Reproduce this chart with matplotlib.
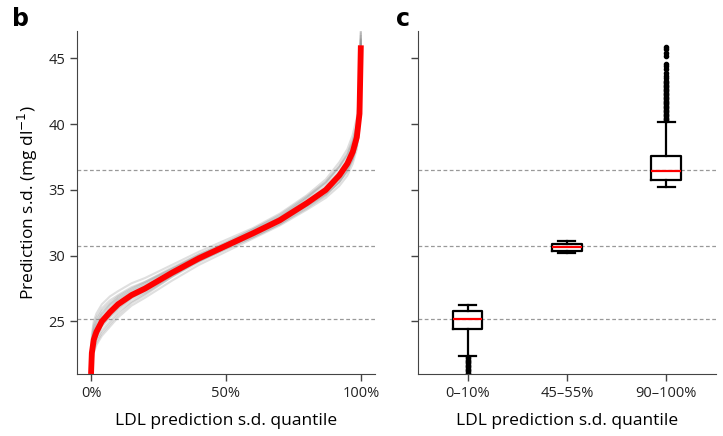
import matplotlib
matplotlib.use("Agg")
import matplotlib.pyplot as plt

plt.rcParams['font.family'] = ['Open Sans', 'DejaVu Sans']

# quantile grid for panel b
quantile = [0, 0.003, 0.01, 0.02, 0.04, 0.07, 0.1, 0.15, 0.2, 0.3, 0.4, 0.5,
            0.6, 0.7, 0.8, 0.87, 0.92, 0.95, 0.97, 0.985, 0.995, 1.0]

# main curve (red)
main_sd = [21.0, 22.6, 23.6, 24.2, 25.0, 25.7, 26.3, 27.0, 27.5, 28.7, 29.8, 30.75,
           31.7, 32.7, 34.0, 35.0, 36.1, 37.0, 37.9, 39.0, 40.8, 46.0]

# individual runs (grey)
run_sd = [
    [21.0, 24.0, 25.0, 25.6, 26.3, 26.9, 27.3, 27.9, 28.3, 29.3, 30.3, 31.2, 32.1, 33.2, 34.6, 35.8, 37.1, 38.1, 39.2, 40.5, 42.2, 47.2],
    [21.0, 21.7, 22.6, 23.2, 23.9, 24.6, 25.3, 26.2, 26.8, 28.1, 29.3, 30.3, 31.3, 32.3, 33.5, 34.4, 35.3, 36.1, 37.0, 38.1, 39.8, 45.3],
    [21.0, 23.4, 24.4, 25.1, 25.8, 26.4, 26.9, 27.5, 28.0, 29.1, 30.1, 31.0, 32.0, 33.0, 34.4, 35.5, 36.7, 37.6, 38.6, 39.8, 41.6, 46.7],
    [21.0, 22.1, 23.0, 23.6, 24.3, 25.0, 25.7, 26.5, 27.1, 28.4, 29.5, 30.5, 31.4, 32.4, 33.7, 34.6, 35.6, 36.5, 37.4, 38.4, 40.1, 45.6],
    [21.0, 23.0, 24.0, 24.7, 25.5, 26.2, 26.7, 27.3, 27.8, 28.9, 30.0, 30.9, 31.9, 32.9, 34.2, 35.3, 36.4, 37.3, 38.3, 39.4, 41.2, 46.4],
    [21.0, 22.4, 23.3, 23.9, 24.7, 25.4, 26.0, 26.8, 27.3, 28.5, 29.6, 30.6, 31.5, 32.5, 33.8, 34.8, 35.9, 36.8, 37.7, 38.8, 40.5, 45.9],
    [21.0, 23.7, 24.7, 25.3, 26.0, 26.6, 27.0, 27.6, 28.0, 29.0, 30.0, 30.9, 31.7, 32.6, 33.8, 34.7, 35.6, 36.4, 37.3, 38.4, 40.2, 46.3],
    [21.0, 21.9, 22.8, 23.4, 24.1, 24.8, 25.5, 26.4, 27.0, 28.4, 29.7, 30.8, 31.8, 32.9, 34.4, 35.6, 36.8, 37.8, 38.8, 39.9, 41.8, 46.9],
    [21.0, 22.7, 23.7, 24.3, 25.1, 25.8, 26.4, 27.0, 27.5, 28.6, 29.6, 30.5, 31.4, 32.4, 33.6, 34.6, 35.6, 36.5, 37.4, 38.5, 40.3, 45.8],
    [21.0, 23.2, 24.2, 24.9, 25.6, 26.3, 26.8, 27.4, 27.9, 29.0, 30.1, 31.0, 32.0, 33.1, 34.5, 35.6, 36.8, 37.7, 38.7, 39.8, 41.5, 47.0],
    [21.0, 22.2, 23.2, 23.8, 24.6, 25.3, 25.9, 26.7, 27.2, 28.5, 29.6, 30.6, 31.6, 32.6, 33.9, 34.9, 35.9, 36.8, 37.7, 38.8, 40.6, 46.1],
    [21.0, 22.9, 23.9, 24.5, 25.3, 26.0, 26.6, 27.2, 27.7, 28.8, 29.8, 30.7, 31.6, 32.6, 33.9, 34.9, 36.0, 36.9, 37.9, 39.0, 40.9, 46.5],
]

# reference levels (dashed)
ref_levels = [25.2, 30.7, 36.5]

# panel c box statistics
groups = ['0–10%', '45–55%', '90–100%']
box_med = [25.2, 30.63, 36.47]
box_q1 = [24.39, 30.38, 35.76]
box_q3 = [25.78, 30.9, 37.56]
box_lo = [22.39, 30.17, 35.23]
box_hi = [26.27, 31.1, 40.15]
box_fliers = [
    [22.3, 22.2, 22.1, 22.0, 21.9, 21.8, 21.7, 21.6, 21.5, 21.4, 21.3, 21.2, 21.1, 21.0],
    [],
    [40.3, 40.4, 40.5, 40.6, 40.7, 40.8, 40.9, 41.0, 41.1, 41.2, 41.3, 41.4, 41.5,
     41.6, 41.7, 41.8, 41.9, 42.0, 42.1, 42.2, 42.3, 42.4, 42.5, 42.6, 42.7, 42.8,
     42.9, 43.0, 43.1, 43.2, 43.3, 43.5, 43.7, 43.9, 44.2, 44.4, 44.6, 45.2, 45.4,
     45.7, 45.9],
]

fig = plt.figure(figsize=(7.23, 4.36), dpi=100)
ax1 = fig.add_axes([0.1065, 0.1422, 0.412, 0.787])
ax2 = fig.add_axes([0.578, 0.1422, 0.412, 0.787])

for ax in (ax1, ax2):
    for y in ref_levels:
        ax.axhline(y, color='#999999', ls='--', lw=0.9, dashes=(3, 2), zorder=0)
    ax.spines['top'].set_visible(False)
    ax.spines['right'].set_visible(False)
    ax.spines['left'].set_color('#444444')
    ax.spines['bottom'].set_color('#444444')
    ax.tick_params(direction='out', length=5, width=1, color='#444444',
                   labelsize=10.5, labelcolor='#222222')
    ax.set_ylim(21, 47.1)
    ax.set_yticks([25, 30, 35, 40, 45])

# panel b
for run in run_sd:
    ax1.plot(quantile, run, color='#8c8c8c', alpha=0.28, lw=1.5, zorder=1)
ax1.plot(quantile, main_sd, color='#ff0000', lw=4.2, zorder=3, solid_capstyle='butt')
ax1.set_xlim(-0.052, 1.052)
ax1.set_xticks([0, 0.5, 1.0])
ax1.set_xticklabels(['0%', '50%', '100%'])
ax1.set_xlabel('LDL prediction s.d. quantile', fontsize=12.5, labelpad=9)
ax1.set_ylabel('Prediction s.d. (mg dl$^{-1}$)', fontsize=12.5, labelpad=6)

# panel c
stats = []
for i in range(len(groups)):
    stats.append({'med': box_med[i], 'q1': box_q1[i], 'q3': box_q3[i],
                  'whislo': box_lo[i], 'whishi': box_hi[i],
                  'fliers': box_fliers[i], 'label': groups[i]})
ax2.bxp(stats, positions=[1, 2, 3], widths=0.3, capwidths=0.17,
        boxprops=dict(color='black', lw=1.6),
        whiskerprops=dict(color='black', lw=1.6),
        capprops=dict(color='black', lw=1.6),
        medianprops=dict(color='#ff0000', lw=1.6),
        flierprops=dict(marker='o', markersize=3, markerfacecolor='black',
                        markeredgecolor='black'))
ax2.set_xlim(0.5, 3.5)
ax2.set_xticks([1, 2, 3])
ax2.set_xticklabels(groups)
ax2.set_yticklabels([])
ax2.set_xlabel('LDL prediction s.d. quantile', fontsize=12.5, labelpad=9)

fig.text(0.016, 0.94, 'b', fontsize=17, fontweight='heavy', family='DejaVu Sans')
fig.text(0.548, 0.94, 'c', fontsize=17, fontweight='heavy', family='DejaVu Sans')

fig.savefig('out.png', dpi=100)
